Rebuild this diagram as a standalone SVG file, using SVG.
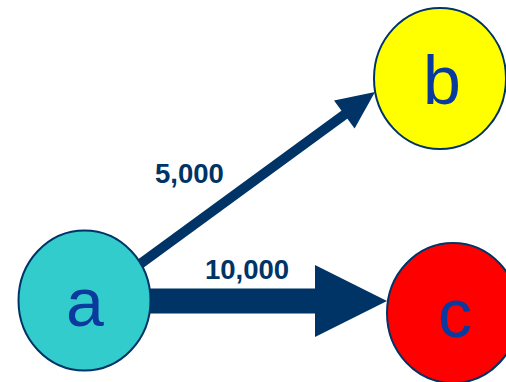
<svg xmlns="http://www.w3.org/2000/svg" width="506" height="382" viewBox="0 0 506 382">
<style>
.node{stroke:#003366;stroke-width:2}
.lbl{font-family:"Liberation Sans",Arial,sans-serif;font-size:68px;fill:#0b3a9e;text-anchor:middle}
.w{font-family:"Liberation Sans",Arial,sans-serif;font-size:27.5px;font-weight:bold;fill:#003366}
.conn{fill:#003366;stroke:none}
</style>
<rect width="506" height="382" fill="#ffffff"/>
<g id="connectors">
<g id="edge-a-b">
<line x1="110" y1="286" x2="346" y2="113.5" stroke="#003366" stroke-width="10"/>
<polygon class="conn" points="375,92 354.6,128.6 334,100.4"/>
<text class="w" x="155" y="183">5,000</text>
</g>
<g id="edge-a-c">
<rect class="conn" x="120" y="288.5" width="196" height="25"/>
<polygon class="conn" points="315,265 387,301 315,337"/>
<text class="w" x="205" y="279">10,000</text>
</g>
</g>
<g id="node-a">
<ellipse class="node" cx="84.5" cy="300.5" rx="66" ry="70" fill="#33cccc"/>
<text class="lbl" x="85" y="326">a</text>
</g>
<g id="node-b">
<ellipse class="node" cx="440" cy="78.5" rx="66" ry="70.5" fill="#ffff00"/>
<text class="lbl" x="442" y="104">b</text>
</g>
<g id="node-c">
<ellipse class="node" cx="453" cy="313" rx="66" ry="70" fill="#ff0000"/>
<text class="lbl" x="455" y="337">c</text>
</g>
</svg>
